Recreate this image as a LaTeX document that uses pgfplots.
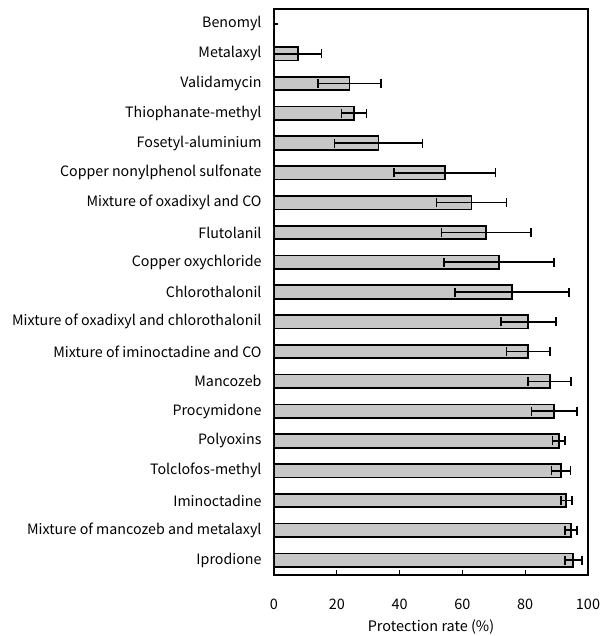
\documentclass[border=0pt]{standalone}
\usepackage{pgfplots}
\pgfplotsset{compat=1.18}
\usepackage{pgfplotstable}
\usepackage{fontspec}
\setmainfont{Noto Sans CJK JP}
\pgfplotstableread{
y x err
0 0 0
1 7.6 7.5
2 24.0 10.0
3 25.5 4.0
4 33.3 14.0
5 54.4 16.1
6 62.9 11.1
7 67.6 14.3
8 71.7 17.5
9 75.8 18.2
10 81.0 8.8
11 81.0 7.0
12 87.8 6.8
13 89.2 7.2
14 90.7 2.0
15 91.4 3.0
16 93.1 1.7
17 94.6 2.0
18 95.3 2.7
}\datatable
\begin{document}
\begin{tikzpicture}
\useasboundingbox (-274bp,-61bp) rectangle (336bp,575bp);
\begin{axis}[
  at={(0,0)}, anchor=south west,
  scale only axis,
  width=314bp, height=566bp,
  xmin=0, xmax=100,
  ymin=-0.5, ymax=18.5,
  y dir=reverse,
  axis line style={line width=1.7pt},
  xtick={0,20,40,60,80,100},
  xtick pos=bottom,
  xtick align=inside,
  major tick length=5bp,
  ytick={0,...,18},
  yticklabels={Benomyl,Metalaxyl,Validamycin,Thiophanate-methyl,Fosetyl-aluminium,Copper nonylphenol sulfonate,Mixture of oxadixyl and CO,Flutolanil,Copper oxychloride,Chlorothalonil,Mixture of oxadixyl and chlorothalonil,Mixture of iminoctadine and CO,Mancozeb,Procymidone,Polyoxins,Tolclofos-methyl,Iminoctadine,Mixture of mancozeb and metalaxyl,Iprodione},
  ytick style={draw=none},
  minor ytick={0.5,1.5,...,17.5},
  minor tick length=4bp,
  ytick pos=left,
  ytick align=inside,
  tick style={line width=1pt,black},
  minor tick style={line width=1pt,black},
  yticklabel style={font=\fontsize{14.3}{16}\selectfont, xshift=-9bp},
  xticklabel style={font=\fontsize{14.5}{16}\selectfont, yshift=-20bp},
  /pgf/number format/assume math mode=true,
  xlabel={Protection rate (\%)},
  xlabel style={font=\fontsize{14.5}{16}\selectfont, yshift=-4bp},
]
\addplot[xbar, bar width=13.5bp, fill=black!22, draw=black, line width=1.7pt,
  error bars/.cd, x dir=both, x explicit,
  error mark=|,
  error bar style={line width=1.7pt, black},
  error mark options={line width=1.7pt, mark size=4.5bp, black}]
  table[x=x, y=y, x error=err] {\datatable};
\end{axis}
\end{tikzpicture}
\end{document}
